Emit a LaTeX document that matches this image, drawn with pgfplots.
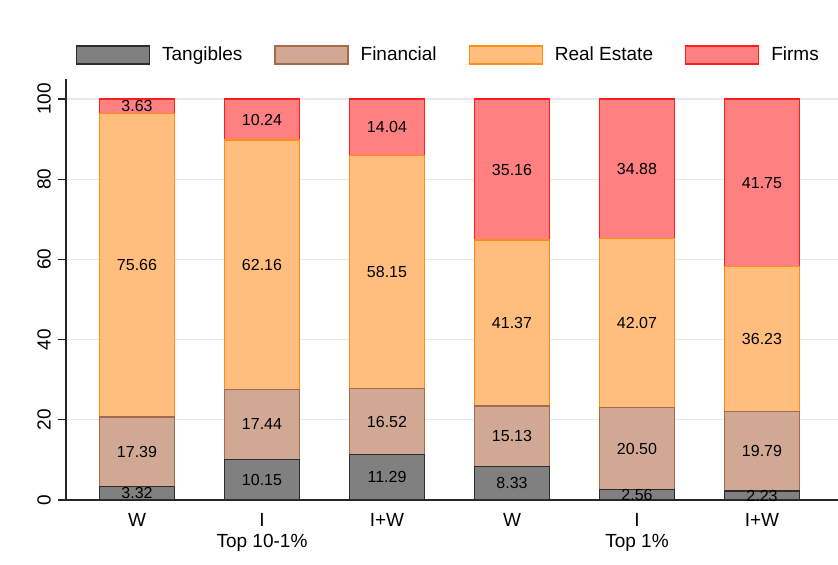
\documentclass[border=0pt]{standalone}
\usepackage{pgfplots}
\usepackage{pgfplotstable}
\pgfplotsset{compat=1.18}
\usepackage{fontspec}
\setmainfont{Liberation Sans}
\definecolor{tanF}{RGB}{128,128,128}
\definecolor{tanD}{RGB}{45,45,45}
\definecolor{finF}{RGB}{208,168,148}
\definecolor{finD}{RGB}{165,105,75}
\definecolor{reF}{RGB}{255,190,125}
\definecolor{reD}{RGB}{255,140,20}
\definecolor{fiF}{RGB}{255,128,128}
\definecolor{fiD}{RGB}{255,30,30}
\definecolor{gridc}{RGB}{228,234,238}
\pgfplotstableread{
x T F R Fi
0 3.32 17.39 75.66 3.63
1 10.15 17.44 62.16 10.24
2 11.29 16.52 58.15 14.04
3 8.33 15.13 41.37 35.16
4 2.56 20.50 42.07 34.88
5 2.23 19.79 36.23 41.75
}\data
\pgfplotsset{
  myleg/.style={legend image code/.code={\draw[##1] (0pt,-4.5pt) rectangle (36.5pt,4.5pt);}},
}
\begin{document}
\begin{tikzpicture}
\path[use as bounding box] (-33pt,-32.5pt) rectangle (386pt,250pt);
\begin{axis}[
  scale only axis,
  x=62.5pt, y=2.005pt,
  xmin=-0.568, xmax=5.608,
  ymin=0, ymax=105,
  ybar stacked,
  bar width=37.5pt,
  axis x line*=bottom,
  axis y line*=left,
  axis line style={draw=black!85, line width=0.6pt},
  xtick={0,1,2,3,4,5},
  xticklabels={W,{I\\Top 10-1\%},I+W,W,{I\\Top 1\%},I+W},
  xticklabel style={align=center, font=\fontsize{9.5}{10.5}\selectfont, yshift=1pt},
  x tick style={draw=none},
  ytick={0,20,40,60,80,100},
  yticklabel style={rotate=90, anchor=south, font=\fontsize{9.5}{11}\selectfont},
  /pgf/number format/assume math mode=true,
  y tick style={draw=black!85, line width=0.6pt},
  tick align=outside,
  major tick length=4pt,
  ymajorgrids,
  grid style={draw=gridc, line width=0.6pt},
  legend columns=4,
  legend style={at={(0.494,1.057)}, anchor=center, draw=none, fill=none,
    inner sep=0pt, font=\fontsize{9.5}{11}\selectfont,
    nodes={inner sep=0pt},
    /tikz/every odd column/.append style={column sep=6pt},
    /tikz/every even column/.append style={column sep=16pt}},
  legend cell align=left,
  nodes near coords={\pgfmathprintnumber[fixed,zerofill,precision=2]{\rawv}},
  every node near coord/.style={anchor=center, font=\fontsize{8}{9}\selectfont, text=black, inner sep=0pt},
]
\addplot[fill=tanF, draw=tanD, line width=0.6pt, myleg, visualization depends on={\thisrow{T}\as\rawv}] table[x=x,y=T] {\data};
\addplot[fill=finF, draw=finD, line width=0.6pt, myleg, visualization depends on={\thisrow{F}\as\rawv}] table[x=x,y=F] {\data};
\addplot[fill=reF, draw=reD, line width=0.6pt, myleg, visualization depends on={\thisrow{R}\as\rawv}] table[x=x,y=R] {\data};
\addplot[fill=fiF, draw=fiD, line width=0.6pt, myleg, visualization depends on={\thisrow{Fi}\as\rawv}] table[x=x,y=Fi] {\data};
\legend{Tangibles,Financial,Real Estate,Firms}
\end{axis}
\end{tikzpicture}
\end{document}
